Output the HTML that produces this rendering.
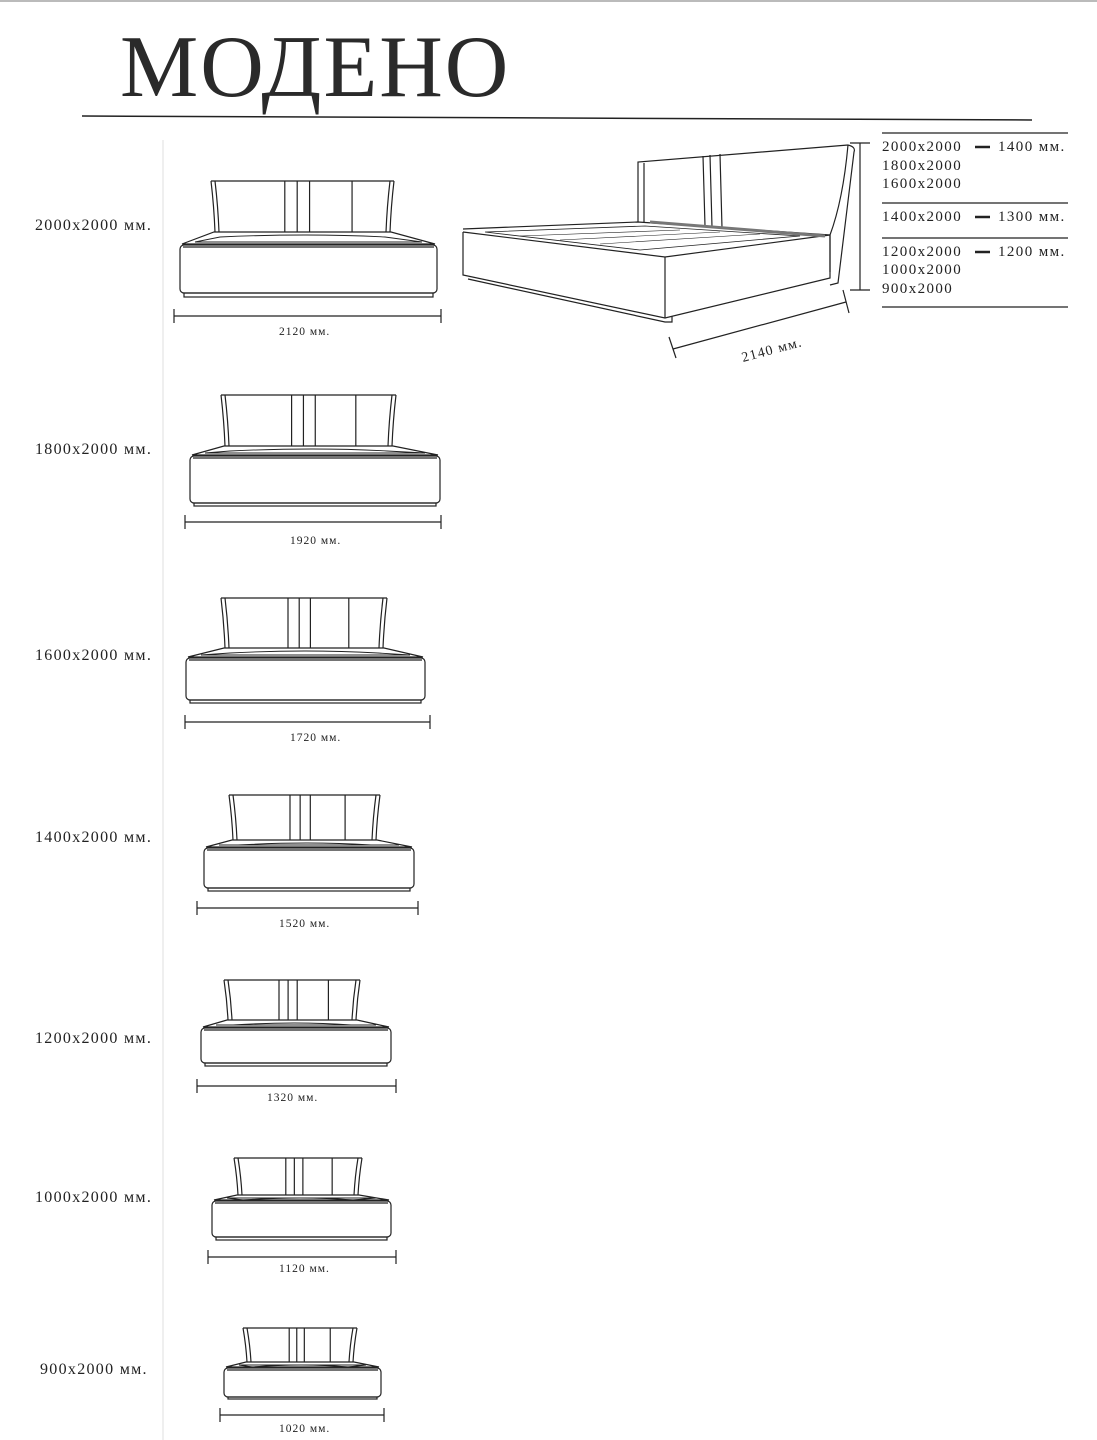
<!DOCTYPE html>
<html><head><meta charset="utf-8"><style>
html,body{margin:0;padding:0;background:#fff;}
body{width:1097px;height:1440px;position:relative;overflow:hidden;font-family:"Liberation Serif",serif;color:#222;}
.t{position:absolute;white-space:nowrap;}
.lbl{font-size:16px;left:35px;letter-spacing:1.3px;}
.dim{font-size:11.5px;letter-spacing:1px;}
.tb{font-size:15px;letter-spacing:1.4px;}
</style></head><body>
<div style="position:absolute;left:0;top:0;width:1097px;height:2px;background:#bbb"></div>
<div class="t" style="left:120px;top:17px;font-size:88px;letter-spacing:2px;color:#2a2a2a;">МОДЕНО</div>
<svg width="1097" height="1440" style="position:absolute;left:0;top:0" id="s">
<line x1="82" y1="116" x2="1032" y2="120" stroke="#222" stroke-width="1.5"/>
<line x1="163" y1="140" x2="163" y2="1440" stroke="#e4e4e4" stroke-width="1.2"/>
<g fill="none" stroke="#222" stroke-width="1.2" id="g"></g>
<g fill="none" stroke="#222" stroke-width="1.2">
<path d="M638,222 L638,162 L848,145"/>
<path d="M644,222 L644,163"/>
<path d="M848,145 Q856,147 854,152 L838,283 L830,285"/>
<path d="M848,145 Q843,200 830,235 L830,272"/>
<path d="M703,156 L705,226 M710,155 L712,227 M720,154 L722,228"/>
<path d="M463,229 L638,222 L830,235"/>
<path d="M463,232 L665,257 L830,235"/>
<path d="M463,232 L463,275 L665,318 L830,278 L830,235"/>
<path d="M665,257 L665,318"/>
<path d="M468,279 L665,322 L672,322 L672,316"/>
<path d="M485,232 L645,226 L800,236 L640,250 Z" stroke-width="0.8"/>
<path d="M520,236 L680,230 M560,240 L720,232 M600,244 L760,234" stroke-width="0.6"/>
<path d="M650,222 L825,236" stroke="#777" stroke-width="3"/>
<line x1="860" y1="143" x2="860" y2="290"/>
<line x1="850" y1="143" x2="870" y2="143"/><line x1="850" y1="290" x2="870" y2="290"/>
<line x1="673" y1="349" x2="846" y2="302"/>
<line x1="669" y1="337" x2="676" y2="358"/><line x1="843" y1="290" x2="849" y2="313"/>
</g>
<text x="743" y="362" transform="rotate(-15 743 362)" font-family="Liberation Serif" font-size="14" letter-spacing="1.2" fill="#222">2140 мм.</text>
<g stroke="#222" stroke-width="1.3">
<line x1="882" y1="133" x2="1068" y2="133"/><line x1="882" y1="203" x2="1068" y2="203"/>
<line x1="882" y1="238" x2="1068" y2="238"/><line x1="882" y1="307" x2="1068" y2="307"/>
</g>
<g stroke="#222" stroke-width="2.5">
<line x1="975" y1="147" x2="990" y2="147"/><line x1="975" y1="217" x2="990" y2="217"/><line x1="975" y1="252" x2="990" y2="252"/>
</g>
</svg>
<script>
var beds=[
[180,437,214,391,181,232,247,293,297,174,441,316],
[190,440,224,393,395,446,458,503,506,185,441,522],
[186,425,224,384,598,648,660,700,703,185,430,722],
[204,414,232,377,795,840,850,888,891,197,418,908],
[201,391,227,357,980,1020,1030,1063,1066,197,396,1086],
[212,391,237,359,1158,1195,1203,1237,1240,208,396,1257],
[224,381,246,354,1328,1362,1370,1397,1399,220,384,1415]];
var h='';
beds.forEach(function(b){
var L=b[0],R=b[1],hl=b[2],hr=b[3],ht=b[4],hb=b[5],bt=b[6],bb=b[7],pb=b[8],dl=b[9],dr=b[10],dy=b[11];
var hw=hr-hl,c=(L+R)/2;
h+='<path d="M'+(hl-3)+','+ht+' L'+(hr+3)+','+ht+'"/>';
h+='<path d="M'+(hl-3)+','+ht+' Q'+(hl)+','+(ht+hb)/2+' '+(hl+1)+','+hb+' M'+(hl+1)+','+ht+' Q'+(hl+4)+','+(ht+hb)/2+' '+(hl+5)+','+hb+'"/>';
h+='<path d="M'+(hr+3)+','+ht+' Q'+(hr)+','+(ht+hb)/2+' '+(hr-1)+','+hb+' M'+(hr-1)+','+ht+' Q'+(hr-4)+','+(ht+hb)/2+' '+(hr-5)+','+hb+'"/>';
[0.40,0.47,0.54,0.78].forEach(function(f){var x=hl+hw*f;h+='<line x1="'+x+'" y1="'+ht+'" x2="'+x+'" y2="'+hb+'"/>';});
h+='<path d="M'+hl+','+hb+' L'+hr+','+hb+' L'+(R-2)+','+(bt-3)+' L'+(L+2)+','+(bt-3)+' Z"/>';
h+='<path d="M'+(hl+6)+','+(hb+5)+' Q'+c+','+(hb+1)+' '+(hr-6)+','+(hb+5)+' L'+(R-15)+','+(bt-5)+' L'+(L+15)+','+(bt-5)+' Z" stroke-width="0.9"/>';
h+='<rect x="'+L+'" y="'+(bt-2)+'" width="'+(R-L)+'" height="'+(bb-bt+2)+'" rx="4"/>';
h+='<line x1="'+(L+3)+'" y1="'+bt+'" x2="'+(R-3)+'" y2="'+bt+'"/>';
h+='<rect x="'+(L+4)+'" y="'+bb+'" width="'+(R-L-8)+'" height="'+(pb-bb)+'"/>';
h+='<line x1="'+dl+'" y1="'+dy+'" x2="'+dr+'" y2="'+dy+'"/>';
h+='<line x1="'+dl+'" y1="'+(dy-7)+'" x2="'+dl+'" y2="'+(dy+7)+'"/><line x1="'+dr+'" y1="'+(dy-7)+'" x2="'+dr+'" y2="'+(dy+7)+'"/>';
});
document.getElementById('g').innerHTML=h;
</script>
<div class="t lbl" style="top:217px">2000x2000 мм.</div>
<div class="t lbl" style="top:441px">1800x2000 мм.</div>
<div class="t lbl" style="top:647px">1600x2000 мм.</div>
<div class="t lbl" style="top:829px">1400x2000 мм.</div>
<div class="t lbl" style="top:1030px">1200x2000 мм.</div>
<div class="t lbl" style="top:1189px">1000x2000 мм.</div>
<div class="t lbl" style="top:1361px;left:40px">900x2000 мм.</div>
<div class="t dim" style="left:279px;top:326px">2120 мм.</div>
<div class="t dim" style="left:290px;top:535px">1920 мм.</div>
<div class="t dim" style="left:290px;top:732px">1720 мм.</div>
<div class="t dim" style="left:279px;top:918px">1520 мм.</div>
<div class="t dim" style="left:267px;top:1092px">1320 мм.</div>
<div class="t dim" style="left:279px;top:1263px">1120 мм.</div>
<div class="t dim" style="left:279px;top:1423px">1020 мм.</div>
<div class="t tb" style="left:882px;top:139px">2000x2000</div>
<div class="t tb" style="left:998px;top:139px">1400 мм.</div>
<div class="t tb" style="left:882px;top:158px">1800x2000</div>
<div class="t tb" style="left:882px;top:176px">1600x2000</div>
<div class="t tb" style="left:882px;top:209px">1400x2000</div>
<div class="t tb" style="left:998px;top:209px">1300 мм.</div>
<div class="t tb" style="left:882px;top:244px">1200x2000</div>
<div class="t tb" style="left:998px;top:244px">1200 мм.</div>
<div class="t tb" style="left:882px;top:262px">1000x2000</div>
<div class="t tb" style="left:882px;top:281px">900x2000</div>
</body></html>
